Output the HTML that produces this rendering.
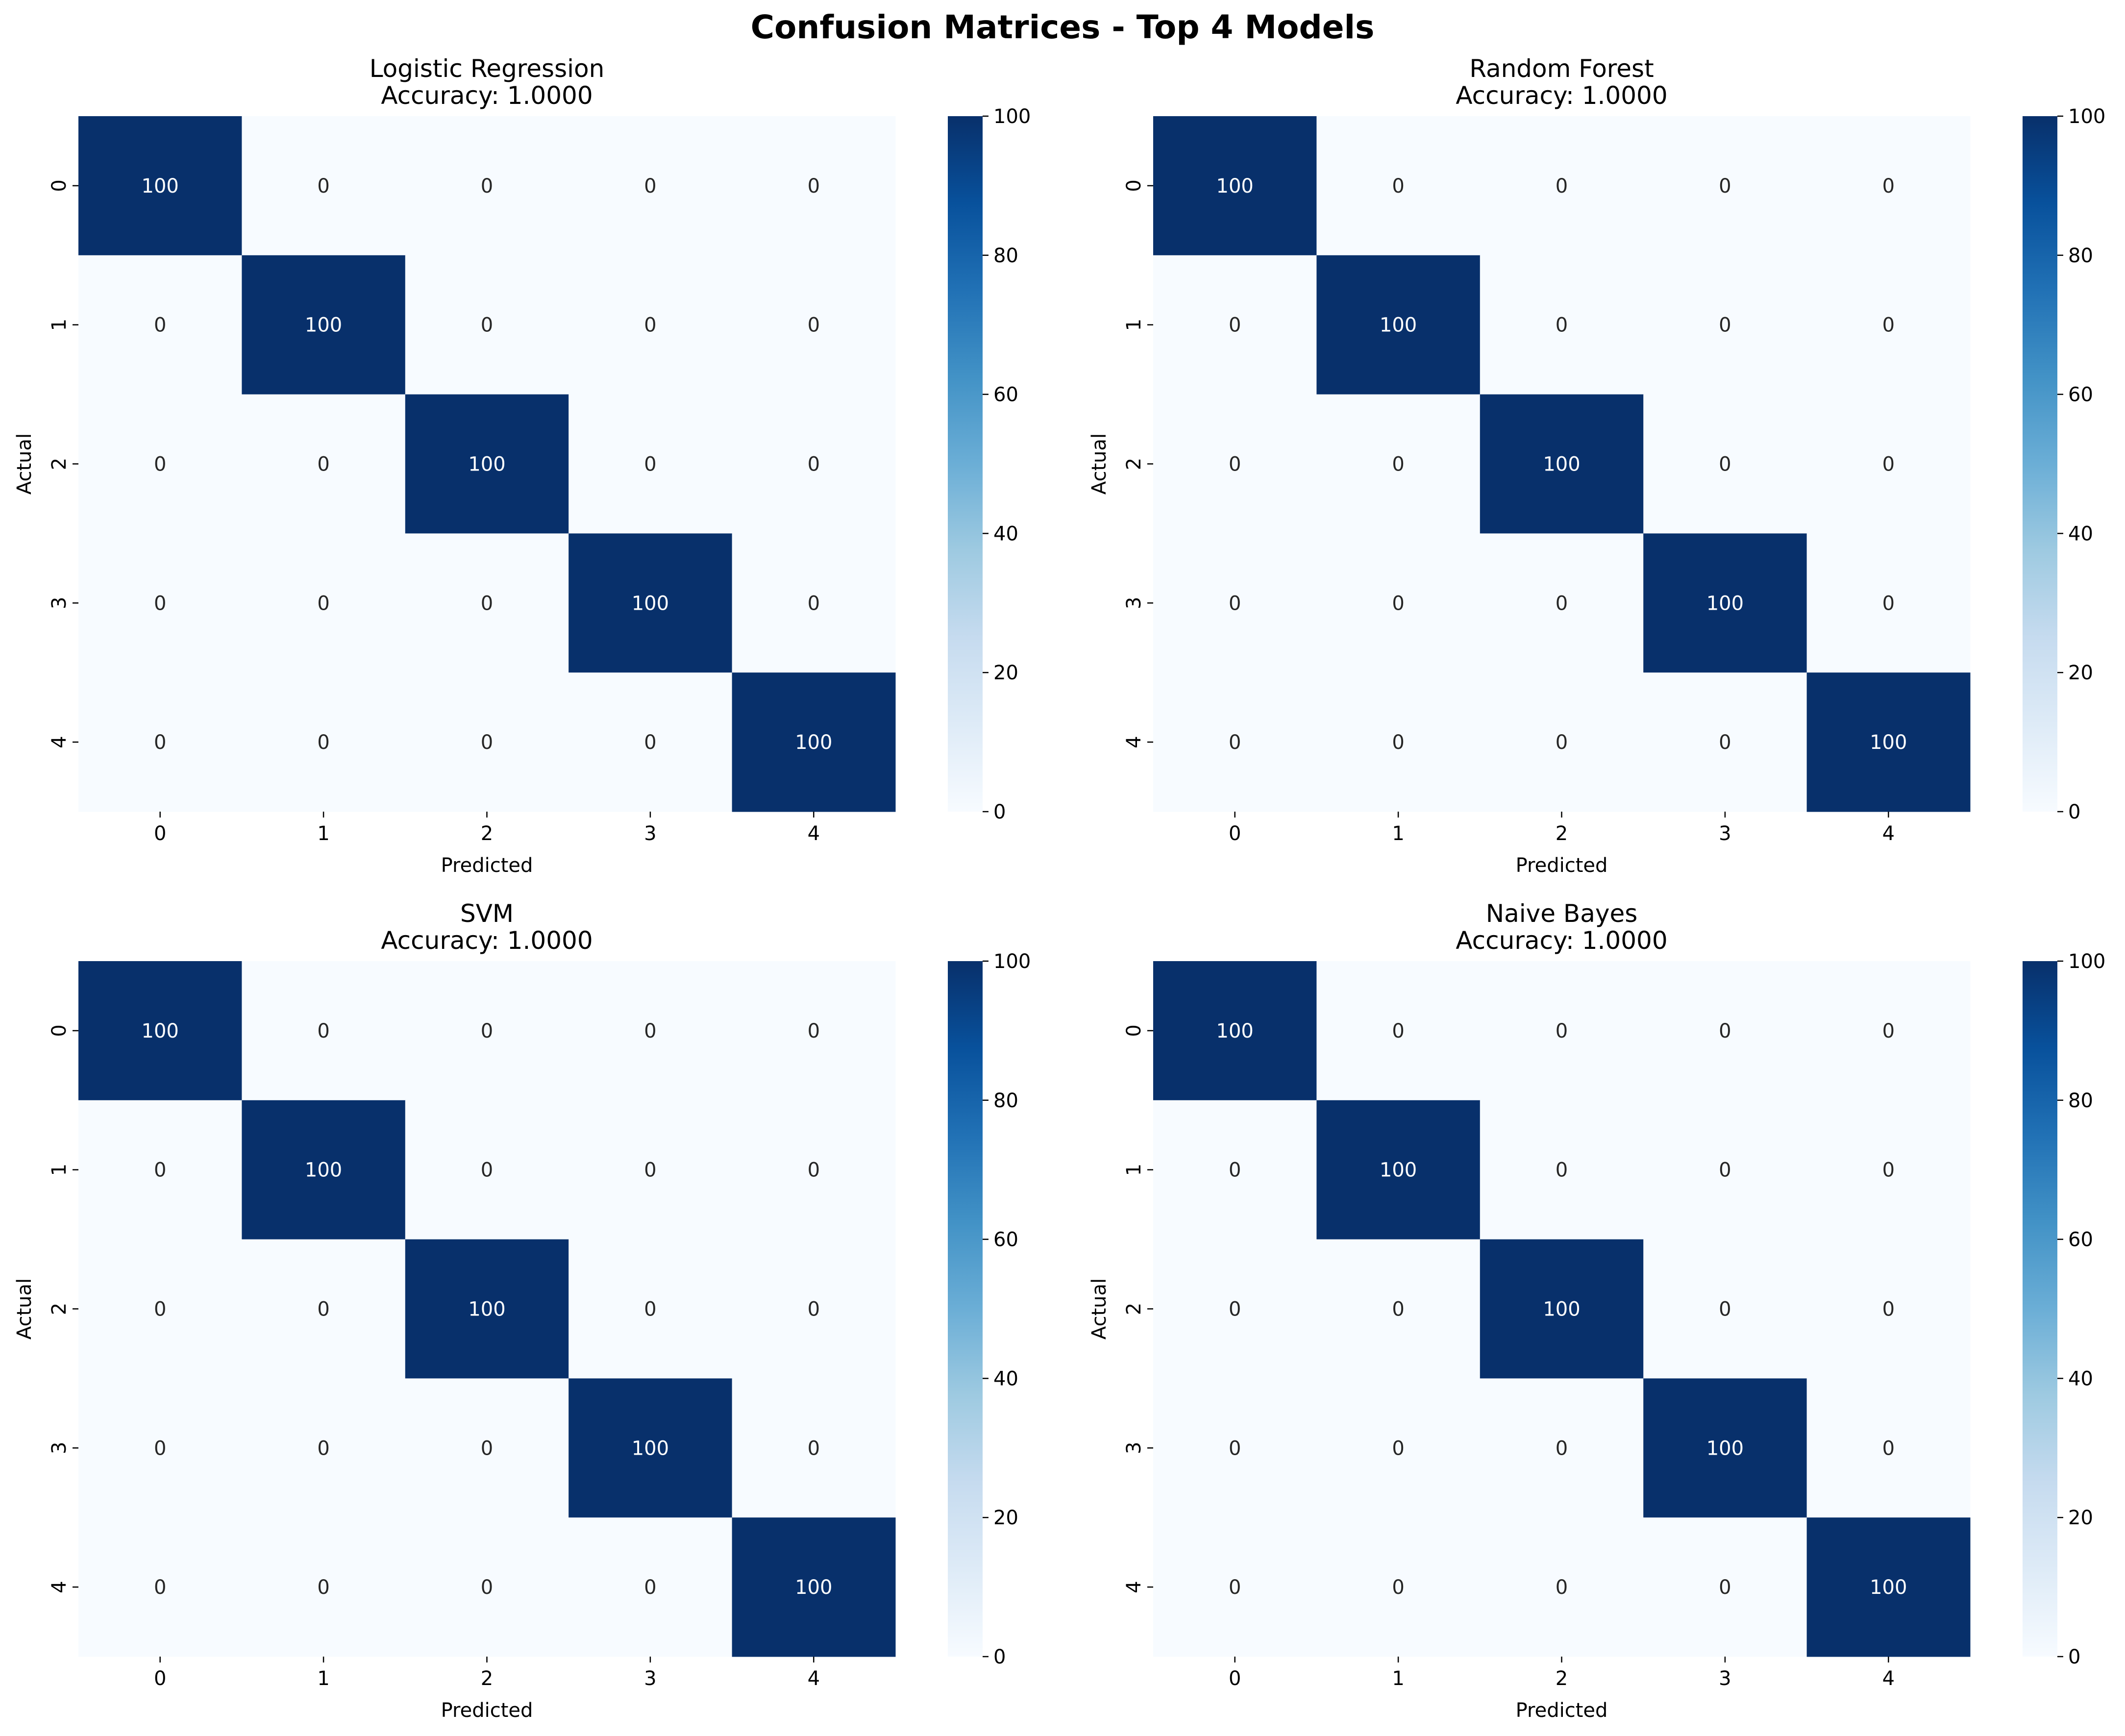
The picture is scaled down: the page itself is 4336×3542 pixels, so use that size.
<!DOCTYPE html>
<html><head><meta charset="utf-8"><style>
html,body{margin:0;padding:0;background:#fff}
svg{display:block}
text{font-family:"DejaVu Sans","Liberation Sans",sans-serif;fill:#000}
</style></head><body>
<svg id="fig" width="4336" height="3542" viewBox="0 0 4336 3542" xmlns="http://www.w3.org/2000/svg">
<rect width="4336" height="3542" fill="#fff"/>
<text x="2168" y="78" text-anchor="middle" font-size="66" font-weight="bold">Confusion Matrices - Top 4 Models</text>
</svg>
<script>
const modelNames = ["Logistic Regression", "Random Forest", "SVM", "Naive Bayes"];
const accuracies = ["1.0000", "1.0000", "1.0000", "1.0000"];
const classLabels = ["0", "1", "2", "3", "4"];
const matrixLR = [[100,0,0,0,0],[0,100,0,0,0],[0,0,100,0,0],[0,0,0,100,0],[0,0,0,0,100]];
const matrixRF = [[100,0,0,0,0],[0,100,0,0,0],[0,0,100,0,0],[0,0,0,100,0],[0,0,0,0,100]];
const matrixSVM = [[100,0,0,0,0],[0,100,0,0,0],[0,0,100,0,0],[0,0,0,100,0],[0,0,0,0,100]];
const matrixNB = [[100,0,0,0,0],[0,100,0,0,0],[0,0,100,0,0],[0,0,0,100,0],[0,0,0,0,100]];
const colorbarTicks = [0, 20, 40, 60, 80, 100];
const matrices = [matrixLR, matrixRF, matrixSVM, matrixNB];

const NS = "http://www.w3.org/2000/svg";
const svg = document.getElementById('fig');
const blues = [[247,251,255],[222,235,247],[198,219,239],[158,202,225],[107,174,214],[66,146,198],[33,113,181],[8,81,156],[8,48,107]];
function blueColor(t){
  t=Math.max(0,Math.min(1,t));
  const p=t*(blues.length-1), i=Math.min(Math.floor(p),blues.length-2), f=p-i;
  const c=blues[i].map((v,k)=>Math.round(v+(blues[i+1][k]-v)*f));
  return `rgb(${c[0]},${c[1]},${c[2]})`;
}
function mk(tag, attrs, parent){
  const e=document.createElementNS(NS,tag);
  for(const k in attrs) e.setAttribute(k,attrs[k]);
  (parent||svg).appendChild(e); return e;
}
const offsets=[[0,0],[2193,0],[0,1724],[2193,1724]];
// defs gradient
const defs=mk('defs',{});
const grad=mk('linearGradient',{id:'cbgrad',x1:'0',y1:'1',x2:'0',y2:'0'},defs);
for(let i=0;i<blues.length;i++){ mk('stop',{offset:(i/(blues.length-1)).toFixed(3),'stop-color':blueColor(i/(blues.length-1))},grad); }

matrices.forEach((m,p)=>{
  const [ox,oy]=offsets[p];
  const L=160+ox, R=1827+ox, T=237+oy, B=1656+oy;
  const n=classLabels.length;
  const vmin=0, vmax=100;
  const cw=(R-L)/n, ch=(B-T)/n;
  const xPos=j=>L+j*cw, yPos=i=>T+i*ch;
  const g=mk('g',{});
  
  
  const t1=mk('text',{x:(L+R)/2,y:157+oy,'text-anchor':'middle','font-size':50},g);
  
  
  t1.textContent=modelNames[p];
  const t2=mk('text',{x:(L+R)/2,y:212+oy,'text-anchor':'middle','font-size':50},g);
  
  
  t2.textContent='Accuracy: '+accuracies[p];
  m.forEach((row,i)=>row.forEach((v,j)=>{
    const tv=(v-vmin)/(vmax-vmin);
    const r=mk('rect',{x:xPos(j),y:yPos(i),width:cw+0.5,height:ch+0.5,fill:blueColor(tv)},g);
    
    
    const tx=mk('text',{x:xPos(j)+cw/2,y:yPos(i)+ch/2+14,'text-anchor':'middle','font-size':40},g);
    
    
    tx.style.fill = tv>0.5?'#fff':'#262626';
    tx.textContent=String(v);
  }));
  classLabels.forEach((lab,j)=>{
    const cx=xPos(j)+cw/2;
    mk('line',{x1:cx,y1:B,x2:cx,y2:B+12,stroke:'#000','stroke-width':2.5},g);
    const tl=mk('text',{x:cx,y:B+58,'text-anchor':'middle','font-size':40},g);
    
    
    tl.textContent=lab;
    const cy=yPos(j)+ch/2;
    mk('line',{x1:L-12,y1:cy,x2:L,y2:cy,stroke:'#000','stroke-width':2.5},g);
    const yl=mk('text',{x:0,y:0,'text-anchor':'middle','font-size':40,transform:`translate(${L-26},${cy}) rotate(-90)`},g);
    
    
    yl.textContent=lab;
  });
  const xl=mk('text',{x:(L+R)/2,y:1779+oy,'text-anchor':'middle','font-size':40},g);
  
  
  xl.textContent='Predicted';
  const yt=mk('text',{x:0,y:0,'text-anchor':'middle','font-size':40,transform:`translate(${63+ox},${(T+B)/2}) rotate(-90)`},g);
  
  
  yt.textContent='Actual';
  // colorbar
  const cbL=1934+ox, cbR=2005+ox;
  const cb=mk('rect',{x:cbL,y:T,width:cbR-cbL,height:B-T,fill:'url(#cbgrad)'},g);
  
  
  colorbarTicks.forEach(tk=>{
    const y=B-(tk-vmin)/(vmax-vmin)*(B-T);
    mk('line',{x1:cbR,y1:y,x2:cbR+12,y2:y,stroke:'#000','stroke-width':2.5},g);
    const ct=mk('text',{x:cbR+22,y:y+14,'font-size':40},g);
    
    
    ct.textContent=String(tk);
  });
});
</script>
</body></html>
